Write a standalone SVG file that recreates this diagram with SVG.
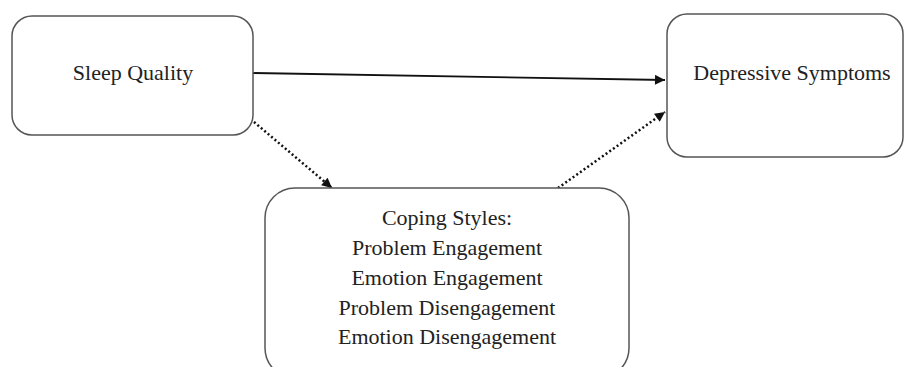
<svg xmlns="http://www.w3.org/2000/svg" width="904" height="367" viewBox="0 0 904 367">
<style>
.box{fill:#fff;stroke:#555;stroke-width:1.5}
.t{font-family:"Liberation Serif",serif;font-size:22px;fill:#222;text-anchor:middle}
.c{stroke:#111;stroke-width:1.8;fill:none}
.d{stroke-dasharray:2 2.5;stroke-width:2.5}
</style>
<defs>
<marker id="ah" viewBox="0 0 10 10" refX="10" refY="5" markerWidth="11" markerHeight="10" markerUnits="userSpaceOnUse" orient="auto">
<path d="M0,0 L10,5 L0,10 z" fill="#111"/>
</marker>
</defs>
<rect width="904" height="367" fill="#fff"/>
<g id="connectors">
<line class="c" x1="253" y1="73" x2="665" y2="80" marker-end="url(#ah)"/>
<line class="c d" x1="254" y1="122" x2="332" y2="188" marker-end="url(#ah)"/>
<line class="c d" x1="558" y1="188" x2="665" y2="112" marker-end="url(#ah)"/>
</g>
<g id="sleep">
<rect class="box" x="12" y="16" width="241" height="119" rx="20"/>
<text class="t" x="133" y="80">Sleep Quality</text>
</g>
<g id="depressive">
<rect class="box" x="667" y="14" width="236" height="143" rx="20"/>
<text class="t" x="792" y="80">Depressive Symptoms</text>
</g>
<g id="coping">
<rect class="box" x="265" y="188" width="364" height="190" rx="30"/>
<text class="t" x="447" y="225">Coping Styles:</text>
<text class="t" x="447" y="255">Problem Engagement</text>
<text class="t" x="447" y="285">Emotion Engagement</text>
<text class="t" x="447" y="315">Problem Disengagement</text>
<text class="t" x="447" y="344">Emotion Disengagement</text>
</g>
</svg>
